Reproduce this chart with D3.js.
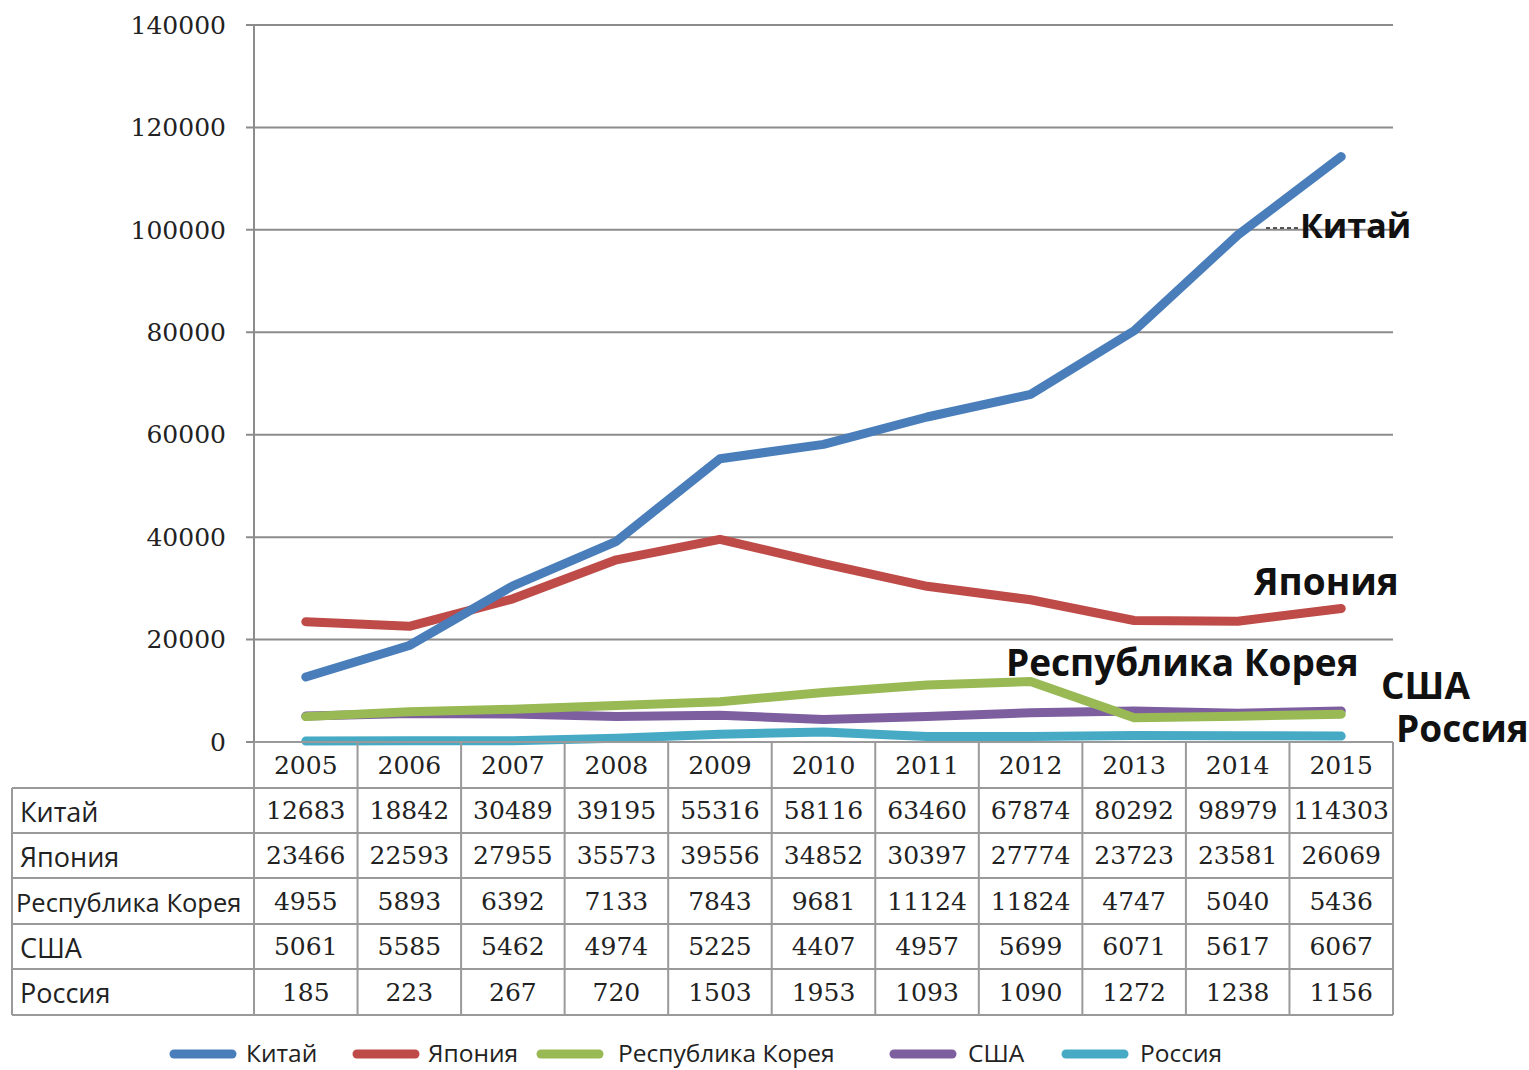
<!DOCTYPE html>
<html><head><meta charset="utf-8">
<script src="https://cdn.jsdelivr.net/npm/d3@7"></script>
<style>body{margin:0;background:#fff}svg{display:block}</style>
</head><body>
<script>
const years = ["2005","2006","2007","2008","2009","2010","2011","2012","2013","2014","2015"];
const seriesNames = ["Китай","Япония","Республика Корея","США","Россия"];
const china  = [12683,18842,30489,39195,55316,58116,63460,67874,80292,98979,114303];
const japan  = [23466,22593,27955,35573,39556,34852,30397,27774,23723,23581,26069];
const korea  = [4955,5893,6392,7133,7843,9681,11124,11824,4747,5040,5436];
const usa    = [5061,5585,5462,4974,5225,4407,4957,5699,6071,5617,6067];
const russia = [185,223,267,720,1503,1953,1093,1090,1272,1238,1156];
const yTicks = [0,20000,40000,60000,80000,100000,120000,140000];
const colors = ["#4a7ebb","#be4b48","#98b954","#7d5fa0","#46aac5"];
const allSeries = [china, japan, korea, usa, russia];

const W=1529,H=1070;
const svg=d3.select("body").append("svg").attr("width",W).attr("height",H);
const x0=254,x1=1393,yTop=25,yBot=742;
const x=d3.scaleBand().domain(years).range([x0,x1]);
const y=d3.scaleLinear().domain([0,140000]).range([yBot,yTop]);
const grid="#8c8c8c";
const serif="'DejaVu Serif', serif";
const sans="'Open Sans', sans-serif";

// gridlines
svg.append("g").selectAll("line").data(yTicks).join("line")
  .attr("x1",x0-8).attr("x2",x1).attr("y1",d=>y(d)).attr("y2",d=>y(d))
  .attr("stroke",grid).attr("stroke-width",2);
// y axis
svg.append("line").attr("x1",x0).attr("x2",x0).attr("y1",yTop).attr("y2",yBot).attr("stroke",grid).attr("stroke-width",2);
svg.append("g").selectAll("text").data(yTicks).join("text")
  .attr("x",226).attr("y",d=>y(d)).attr("dy","0.35em").attr("text-anchor","end")
  .attr("font-family",serif).attr("font-size",25).attr("fill","#222").text(d=>d);

// lines
const line=d3.line().x((d,i)=>x(years[i])+x.bandwidth()/2).y(d=>y(d));
const order=[4,3,2,1,0];
order.forEach(k=>{
  svg.append("path").datum(allSeries[k]).attr("d",line).attr("fill","none")
    .attr("stroke",colors[k]).attr("stroke-width",9).attr("stroke-linecap","round").attr("stroke-linejoin","round");
});

// series labels
const lbl=[["Китай",1300,226,34],["Япония",1254,582,37],["Республика Корея",1006,663,37],["США",1381,686,37],["Россия",1396,729,37]];
svg.append("line").attr("x1",1266).attr("x2",1298).attr("y1",228).attr("y2",228).attr("stroke","#222").attr("stroke-width",1.5).attr("stroke-dasharray","4,3");
svg.append("g").selectAll("text").data(lbl).join("text")
  .attr("x",d=>d[1]).attr("y",d=>d[2]).attr("dy","0.35em")
  .attr("font-family",sans).attr("font-weight","bold").attr("font-size",d=>d[3]).attr("fill","#111").text(d=>d[0]);

// table
const tL=12, rowH=[742,788,833,878,924,969,1015];
const tb=svg.append("g");
const tc="#9a9a9a";
tb.selectAll("line.h").data(rowH).join("line").attr("class","h")
  .attr("x1",(d,i)=>i===0?x0:tL).attr("x2",x1).attr("y1",d=>d).attr("y2",d=>d)
  .attr("stroke",tc).attr("stroke-width",2);
const vx=years.map(yy=>x(yy)).concat([x1]);
tb.selectAll("line.v").data(vx).join("line").attr("class","v")
  .attr("x1",d=>d).attr("x2",d=>d).attr("y1",yBot).attr("y2",rowH[6])
  .attr("stroke",tc).attr("stroke-width",2);
tb.append("line").attr("x1",tL).attr("x2",tL).attr("y1",rowH[1]).attr("y2",rowH[6]).attr("stroke",tc).attr("stroke-width",2);
tb.selectAll("text.yr").data(years).join("text").attr("class","yr")
  .attr("x",d=>x(d)+x.bandwidth()/2).attr("y",(rowH[0]+rowH[1])/2).attr("dy","0.35em")
  .attr("text-anchor","middle").attr("font-family",serif).attr("font-size",25).attr("fill","#222").text(d=>d);
allSeries.forEach((s,r)=>{
  const cy=(rowH[r+1]+rowH[r+2])/2;
  tb.append("text").attr("x",r===2?16:20).attr("y",cy+2).attr("dy","0.35em")
    .attr("font-family",sans).attr("font-size",r===2?25.5:27).attr("fill","#222").text(seriesNames[r]);
  tb.selectAll(null).data(s).join("text")
    .attr("x",(d,i)=>x(years[i])+x.bandwidth()/2).attr("y",cy).attr("dy","0.35em")
    .attr("text-anchor","middle").attr("font-family",serif).attr("font-size",25).attr("fill","#222")
    .text(d=>d);
});

// legend
const leg=[[170,246],[353,428],[537,618],[890,968],[1062,1140]];
leg.forEach((p,k)=>{
  svg.append("line").attr("x1",p[0]+4).attr("x2",p[0]+62).attr("y1",1054).attr("y2",1054)
    .attr("stroke",colors[k]).attr("stroke-width",9).attr("stroke-linecap","round");
  svg.append("text").attr("x",p[1]).attr("y",1053).attr("dy","0.35em")
    .attr("font-family",sans).attr("font-size",24.5).attr("fill","#222").text(seriesNames[k]);
});
</script>
</body></html>
